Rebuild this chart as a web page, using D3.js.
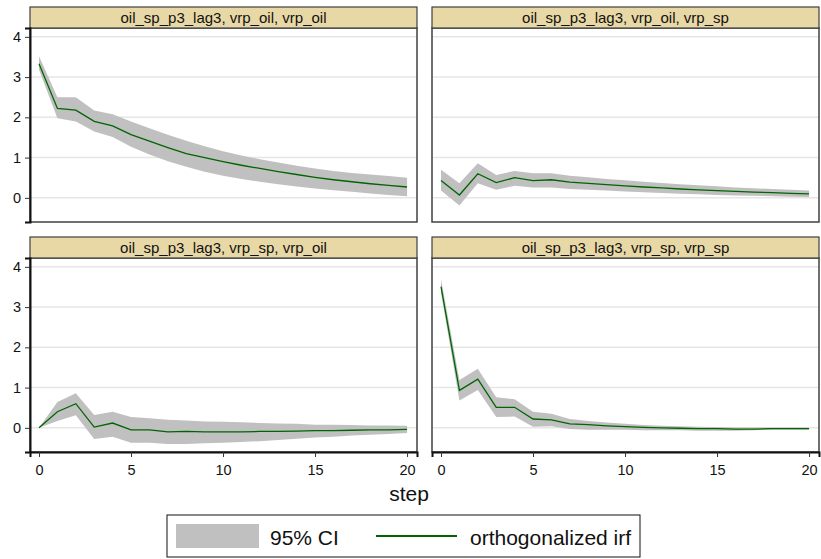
<!DOCTYPE html>
<html>
<head>
<meta charset="utf-8">
<script src="https://cdn.jsdelivr.net/npm/d3@7"></script>
<style>
  body { margin: 0; background: #fff; }
  text { font-family: "Liberation Sans", Arial, sans-serif; }
</style>
</head>
<body>
<div id="viz"></div>
<script>
const w = 821;
const h = 559;

// data
const steps = [0, 1, 2, 3, 4, 5, 6, 7, 8, 9, 10, 11, 12, 13, 14, 15, 16, 17, 18, 19, 20];
const yTicks = [0, 1, 2, 3, 4];
const xTicks = [0, 5, 10, 15, 20];
const titles = [
    'oil_sp_p3_lag3, vrp_oil, vrp_oil',
    'oil_sp_p3_lag3, vrp_oil, vrp_sp',
    'oil_sp_p3_lag3, vrp_sp, vrp_oil',
    'oil_sp_p3_lag3, vrp_sp, vrp_sp'
];

const irfOilOil = [3.33, 2.22, 2.18, 1.90, 1.79, 1.57, 1.41, 1.25, 1.10, 1.00, 0.90, 0.81, 0.73, 0.65, 0.58, 0.51, 0.45, 0.40, 0.35, 0.31, 0.27];
const hiOilOil  = [3.52, 2.50, 2.50, 2.17, 2.08, 1.90, 1.73, 1.57, 1.42, 1.28, 1.16, 1.05, 0.96, 0.88, 0.80, 0.73, 0.67, 0.62, 0.58, 0.54, 0.50];
const loOilOil  = [3.18, 1.98, 1.90, 1.65, 1.51, 1.27, 1.08, 0.91, 0.77, 0.65, 0.55, 0.47, 0.40, 0.34, 0.28, 0.23, 0.19, 0.15, 0.11, 0.07, 0.04];

const irfOilSp = [0.43, 0.07, 0.60, 0.38, 0.50, 0.43, 0.45, 0.39, 0.36, 0.33, 0.30, 0.27, 0.25, 0.22, 0.20, 0.18, 0.16, 0.14, 0.13, 0.11, 0.10];
const hiOilSp  = [0.70, 0.36, 0.86, 0.57, 0.67, 0.61, 0.61, 0.55, 0.51, 0.47, 0.44, 0.40, 0.37, 0.34, 0.31, 0.29, 0.26, 0.24, 0.22, 0.20, 0.18];
const loOilSp  = [0.18, -0.19, 0.36, 0.20, 0.30, 0.26, 0.26, 0.22, 0.20, 0.18, 0.16, 0.14, 0.12, 0.10, 0.09, 0.07, 0.06, 0.05, 0.04, 0.03, 0.02];

const irfSpOil = [0, 0.40, 0.60, 0.02, 0.12, -0.05, -0.05, -0.10, -0.09, -0.10, -0.10, -0.10, -0.09, -0.09, -0.08, -0.07, -0.07, -0.06, -0.05, -0.05, -0.04];
const hiSpOil  = [0, 0.64, 0.86, 0.32, 0.40, 0.27, 0.24, 0.20, 0.18, 0.16, 0.15, 0.14, 0.12, 0.11, 0.10, 0.08, 0.08, 0.07, 0.06, 0.06, 0.05];
const loSpOil  = [0, 0.17, 0.31, -0.28, -0.22, -0.37, -0.37, -0.40, -0.40, -0.38, -0.37, -0.35, -0.33, -0.30, -0.27, -0.24, -0.22, -0.19, -0.17, -0.15, -0.13];

const irfSpSp = [3.51, 0.93, 1.21, 0.51, 0.51, 0.22, 0.20, 0.10, 0.08, 0.05, 0.03, 0.01, 0.00, -0.01, -0.02, -0.02, -0.03, -0.03, -0.02, -0.02, -0.02];
const hiSpSp  = [3.70, 1.19, 1.47, 0.76, 0.71, 0.40, 0.35, 0.22, 0.17, 0.13, 0.10, 0.07, 0.05, 0.04, 0.03, 0.02, 0.01, 0.01, 0.01, 0.01, 0.01];
const loSpSp  = [3.35, 0.68, 0.94, 0.27, 0.28, 0.03, 0.04, -0.03, -0.05, -0.05, -0.05, -0.06, -0.06, -0.06, -0.07, -0.07, -0.07, -0.06, -0.05, -0.05, -0.05];

const panels = [
    { title: titles[0], irf: irfOilOil, hi: hiOilOil, lo: loOilOil, col: 0, row: 0 },
    { title: titles[1], irf: irfOilSp, hi: hiOilSp, lo: loOilSp, col: 1, row: 0 },
    { title: titles[2], irf: irfSpOil, hi: hiSpOil, lo: loSpOil, col: 0, row: 1 },
    { title: titles[3], irf: irfSpSp, hi: hiSpSp, lo: loSpSp, col: 1, row: 1 }
];

// layout
const cols = [{ x0: 30, x1: 417 }, { x0: 432, x1: 819 }];
const rows = [{ top: 7, head: 28, y1: 222 }, { top: 237, head: 258, y1: 452 }];
const bandColor = '#c0c0c0';
const lineColor = '#006400';
const headFill = '#e8d8a6';
const tickFont = 14.5;

const svg = d3.select('#viz').append('svg')
    .attr('width', w)
    .attr('height', h)

panels.forEach(p => {
    let c = cols[p.col];
    let r = rows[p.row];
    let x = d3.scaleLinear().domain([-0.49, 20.54]).range([c.x0, c.x1]);
    let y = d3.scaleLinear().domain([-0.6, 4.22]).range([r.y1, r.head]);

    let g = svg.append('g');

    // plot region
    g.append('rect')
        .attr('x', c.x0).attr('y', r.head)
        .attr('width', c.x1 - c.x0).attr('height', r.y1 - r.head)
        .attr('fill', '#fff')

    // grid
    g.selectAll('.grid').data(yTicks).join('line')
        .attr('x1', c.x0).attr('x2', c.x1)
        .attr('y1', d => y(d)).attr('y2', d => y(d))
        .attr('stroke', '#e6e6e6')
        .attr('stroke-width', 1.5)

    let data = steps.map((s, i) => ({ s: s, irf: p.irf[i], hi: p.hi[i], lo: p.lo[i] }));

    g.append('path')
        .datum(data)
        .attr('fill', bandColor)
        .attr('d', d3.area().x(d => x(d.s)).y0(d => y(d.lo)).y1(d => y(d.hi)))

    g.append('path')
        .datum(data)
        .attr('fill', 'none')
        .attr('stroke', lineColor)
        .attr('stroke-width', 1.3)
        .attr('d', d3.line().x(d => x(d.s)).y(d => y(d.irf)))

    // border
    g.append('rect')
        .attr('x', c.x0).attr('y', r.head)
        .attr('width', c.x1 - c.x0).attr('height', r.y1 - r.head)
        .attr('fill', 'none')
        .attr('stroke', '#404040')
        .attr('stroke-width', 1.5)

    // header strip
    g.append('rect')
        .attr('x', c.x0).attr('y', r.top)
        .attr('width', c.x1 - c.x0).attr('height', r.head - r.top)
        .attr('fill', headFill)
        .attr('stroke', '#404040')
        .attr('stroke-width', 1.2)

    g.append('text')
        .attr('x', (c.x0 + c.x1) / 2)
        .attr('y', r.top + 15.5)
        .attr('text-anchor', 'middle')
        .attr('font-size', 15)
        .attr('fill', '#111')
        .text(p.title)

    if (p.col === 0) {
        let ax = g.append('g')
            .attr('transform', `translate(${c.x0},0)`)
            .call(d3.axisLeft(y).tickValues(yTicks).tickSize(5).tickPadding(4).tickFormat(d3.format('d')))
        ax.select('.domain').attr('stroke', '#111').attr('stroke-width', 2)
        ax.selectAll('.tick line').attr('stroke', '#333')
        ax.selectAll('text').attr('font-size', tickFont).attr('font-family', '"Liberation Sans", Arial, sans-serif').attr('fill', '#111')
    }

    if (p.row === 1) {
        let ax = g.append('g')
            .attr('transform', `translate(0,${r.y1})`)
            .call(d3.axisBottom(x).tickValues(xTicks).tickSize(5).tickPadding(7.5).tickFormat(d3.format('d')))
        ax.select('.domain').attr('stroke', '#111').attr('stroke-width', 2)
        ax.selectAll('.tick line').attr('stroke', '#333')
        ax.selectAll('text').attr('font-size', tickFont).attr('font-family', '"Liberation Sans", Arial, sans-serif').attr('fill', '#111')
    }
})

// x title
svg.append('text')
    .attr('x', 409)
    .attr('y', 501)
    .attr('text-anchor', 'middle')
    .attr('font-size', 21)
    .attr('fill', '#111')
    .text('step')

// legend
let legend = svg.append('g')

legend.append('rect')
    .attr('x', 167).attr('y', 515)
    .attr('width', 473).attr('height', 42)
    .attr('fill', '#fff')
    .attr('stroke', '#111')
    .attr('stroke-width', 1)

legend.append('rect')
    .attr('x', 176).attr('y', 524)
    .attr('width', 83).attr('height', 24)
    .attr('fill', bandColor)

legend.append('text')
    .attr('x', 270).attr('y', 545)
    .attr('font-size', 21)
    .attr('fill', '#111')
    .text('95% CI')

legend.append('line')
    .attr('x1', 376).attr('x2', 457)
    .attr('y1', 536).attr('y2', 536)
    .attr('stroke', lineColor)
    .attr('stroke-width', 2)

legend.append('text')
    .attr('x', 470).attr('y', 545)
    .attr('font-size', 21)
    .attr('fill', '#111')
    .text('orthogonalized irf')
</script>
</body>
</html>
